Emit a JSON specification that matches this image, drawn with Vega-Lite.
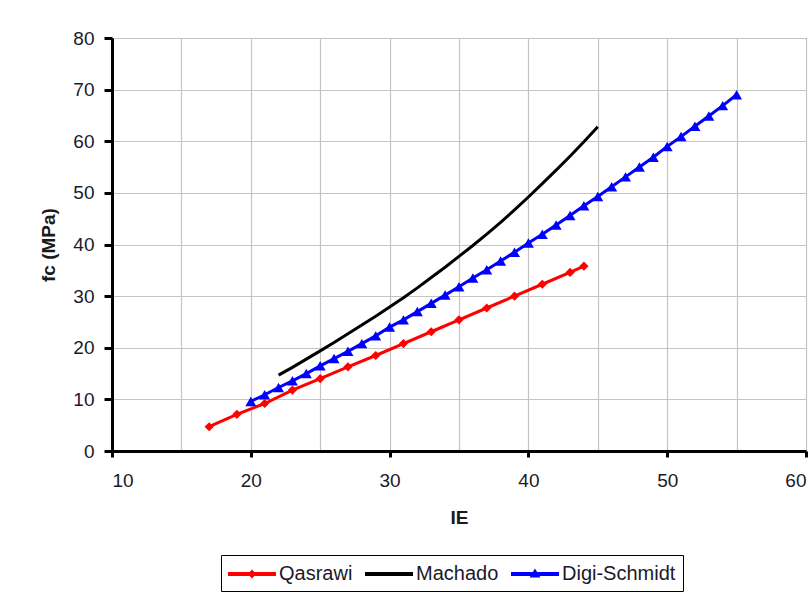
{
  "$schema": "https://vega.github.io/schema/vega-lite/v6.json",
  "width": 694,
  "height": 413,
  "autosize": {"type": "none"},
  "padding": {"left": 112, "top": 38, "right": 3, "bottom": 144},
  "background": "white",
  "config": {
    "font": "Liberation Sans",
    "view": {"stroke": "#000000", "strokeWidth": 1},
    "axis": {
      "domainColor": "#000000",
      "domainWidth": 3,
      "tickColor": "#000000",
      "tickWidth": 3,
      "gridColor": "#c4c4c4",
      "gridWidth": 1.2,
      "labelFont": "Liberation Sans",
      "labelFontSize": 19,
      "labelColor": "#1a1a2a",
      "titleFont": "Liberation Sans",
      "titleFontSize": 19,
      "titleFontWeight": "bold",
      "titleColor": "#1a1a1a"
    },
    "legend": {
      "orient": "none",
      "legendX": 109,
      "legendY": 517,
      "direction": "horizontal",
      "strokeColor": "#000000",
      "fillColor": "#ffffff",
      "padding": 7,
      "labelFont": "Liberation Sans",
      "labelFontSize": 20,
      "labelColor": "#1a1a2a",
      "labelOffset": 27,
      "columnPadding": 12,
      "symbolSize": 576,
      "symbolStrokeWidth": 0,
      "symbolOpacity": 1
    }
  },
  "data": {
    "values": [
      {"series": "Qasrawi", "IE": 17, "fc": 4.7},
      {"series": "Qasrawi", "IE": 19, "fc": 7.1},
      {"series": "Qasrawi", "IE": 21, "fc": 9.2},
      {"series": "Qasrawi", "IE": 23, "fc": 11.8},
      {"series": "Qasrawi", "IE": 25, "fc": 14.0},
      {"series": "Qasrawi", "IE": 27, "fc": 16.3},
      {"series": "Qasrawi", "IE": 29, "fc": 18.5},
      {"series": "Qasrawi", "IE": 31, "fc": 20.8},
      {"series": "Qasrawi", "IE": 33, "fc": 23.1},
      {"series": "Qasrawi", "IE": 35, "fc": 25.4},
      {"series": "Qasrawi", "IE": 37, "fc": 27.7},
      {"series": "Qasrawi", "IE": 39, "fc": 30.0},
      {"series": "Qasrawi", "IE": 41, "fc": 32.3},
      {"series": "Qasrawi", "IE": 43, "fc": 34.6},
      {"series": "Qasrawi", "IE": 44, "fc": 35.8},
      {"series": "Machado", "IE": 22, "fc": 14.7},
      {"series": "Machado", "IE": 23, "fc": 16.2},
      {"series": "Machado", "IE": 24, "fc": 17.8},
      {"series": "Machado", "IE": 25, "fc": 19.4},
      {"series": "Machado", "IE": 26, "fc": 21.0},
      {"series": "Machado", "IE": 27, "fc": 22.7},
      {"series": "Machado", "IE": 28, "fc": 24.4},
      {"series": "Machado", "IE": 29, "fc": 26.1},
      {"series": "Machado", "IE": 30, "fc": 27.9},
      {"series": "Machado", "IE": 31, "fc": 29.7},
      {"series": "Machado", "IE": 32, "fc": 31.6},
      {"series": "Machado", "IE": 33, "fc": 33.6},
      {"series": "Machado", "IE": 34, "fc": 35.6},
      {"series": "Machado", "IE": 35, "fc": 37.7},
      {"series": "Machado", "IE": 36, "fc": 39.8},
      {"series": "Machado", "IE": 37, "fc": 42.0},
      {"series": "Machado", "IE": 38, "fc": 44.3},
      {"series": "Machado", "IE": 39, "fc": 46.7},
      {"series": "Machado", "IE": 40, "fc": 49.2},
      {"series": "Machado", "IE": 41, "fc": 51.8},
      {"series": "Machado", "IE": 42, "fc": 54.4},
      {"series": "Machado", "IE": 43, "fc": 57.1},
      {"series": "Machado", "IE": 44, "fc": 59.9},
      {"series": "Machado", "IE": 45, "fc": 62.8},
      {"series": "Digi-Schmidt", "IE": 20, "fc": 9.6},
      {"series": "Digi-Schmidt", "IE": 21, "fc": 10.9},
      {"series": "Digi-Schmidt", "IE": 22, "fc": 12.3},
      {"series": "Digi-Schmidt", "IE": 23, "fc": 13.6},
      {"series": "Digi-Schmidt", "IE": 24, "fc": 15.0},
      {"series": "Digi-Schmidt", "IE": 25, "fc": 16.5},
      {"series": "Digi-Schmidt", "IE": 26, "fc": 17.9},
      {"series": "Digi-Schmidt", "IE": 27, "fc": 19.3},
      {"series": "Digi-Schmidt", "IE": 28, "fc": 20.8},
      {"series": "Digi-Schmidt", "IE": 29, "fc": 22.3},
      {"series": "Digi-Schmidt", "IE": 30, "fc": 24.0},
      {"series": "Digi-Schmidt", "IE": 31, "fc": 25.4},
      {"series": "Digi-Schmidt", "IE": 32, "fc": 27.0},
      {"series": "Digi-Schmidt", "IE": 33, "fc": 28.6},
      {"series": "Digi-Schmidt", "IE": 34, "fc": 30.2},
      {"series": "Digi-Schmidt", "IE": 35, "fc": 31.8},
      {"series": "Digi-Schmidt", "IE": 36, "fc": 33.5},
      {"series": "Digi-Schmidt", "IE": 37, "fc": 35.1},
      {"series": "Digi-Schmidt", "IE": 38, "fc": 36.8},
      {"series": "Digi-Schmidt", "IE": 39, "fc": 38.5},
      {"series": "Digi-Schmidt", "IE": 40, "fc": 40.3},
      {"series": "Digi-Schmidt", "IE": 41, "fc": 42.0},
      {"series": "Digi-Schmidt", "IE": 42, "fc": 43.8},
      {"series": "Digi-Schmidt", "IE": 43, "fc": 45.6},
      {"series": "Digi-Schmidt", "IE": 44, "fc": 47.5},
      {"series": "Digi-Schmidt", "IE": 45, "fc": 49.3},
      {"series": "Digi-Schmidt", "IE": 46, "fc": 51.2},
      {"series": "Digi-Schmidt", "IE": 47, "fc": 53.1},
      {"series": "Digi-Schmidt", "IE": 48, "fc": 55.0},
      {"series": "Digi-Schmidt", "IE": 49, "fc": 56.9},
      {"series": "Digi-Schmidt", "IE": 50, "fc": 59.0},
      {"series": "Digi-Schmidt", "IE": 51, "fc": 60.9},
      {"series": "Digi-Schmidt", "IE": 52, "fc": 62.9},
      {"series": "Digi-Schmidt", "IE": 53, "fc": 64.9},
      {"series": "Digi-Schmidt", "IE": 54, "fc": 66.9},
      {"series": "Digi-Schmidt", "IE": 55, "fc": 69.0}
    ]
  },
  "encoding": {
    "x": {
      "field": "IE",
      "type": "quantitative",
      "scale": {"domain": [10, 60], "nice": false, "zero": false},
      "axis": {
        "title": "IE",
        "values": [10, 15, 20, 25, 30, 35, 40, 45, 50, 55, 60],
        "labelExpr": "datum.value % 10 === 0 ? datum.label : ''",
        "tickOpacity": {"condition": {"test": "datum.value % 10 === 0", "value": 1}, "value": 0},
        "tickSize": 6,
        "labelPadding": 14,
        "titlePadding": 18,
        "grid": true
      }
    },
    "y": {
      "field": "fc",
      "type": "quantitative",
      "scale": {"domain": [0, 80], "nice": false},
      "axis": {
        "title": "fc (MPa)",
        "values": [0, 10, 20, 30, 40, 50, 60, 70, 80],
        "tickSize": 8,
        "labelPadding": 10,
        "titlePadding": 14,
        "grid": true
      }
    }
  },
  "layer": [
    {
      "transform": [{"filter": "datum.series === 'Qasrawi'"}],
      "mark": {"type": "line", "strokeWidth": 3, "color": "#ff0000"}
    },
    {
      "transform": [{"filter": "datum.series === 'Machado'"}],
      "mark": {"type": "line", "strokeWidth": 3, "color": "#000000"}
    },
    {
      "transform": [{"filter": "datum.series === 'Digi-Schmidt'"}],
      "mark": {"type": "line", "strokeWidth": 3, "color": "#0000ff"}
    },
    {
      "transform": [{"filter": "datum.series === 'Qasrawi'"}],
      "mark": {"type": "point", "shape": "diamond", "filled": true, "size": 85, "color": "#ff0000", "opacity": 1}
    },
    {
      "transform": [{"filter": "datum.series === 'Digi-Schmidt'"}],
      "mark": {"type": "point", "shape": "triangle-up", "filled": true, "size": 120, "color": "#0000ff", "opacity": 1}
    },
    {
      "mark": {"type": "point", "filled": true, "opacity": 1, "size": 0},
      "encoding": {
        "color": {
          "field": "series",
          "type": "nominal",
          "scale": {"domain": ["Qasrawi", "Machado", "Digi-Schmidt"], "range": ["#ff0000", "#000000", "#0000ff"]},
          "legend": {"title": null}
        },
        "shape": {
          "field": "series",
          "type": "nominal",
          "scale": {
            "domain": ["Qasrawi", "Machado", "Digi-Schmidt"],
            "range": [
              "M-1,-0.17H3V0.17H-1Z M1,-0.38L1.35,0L1,0.38L0.65,0Z",
              "M-1,-0.17H3V0.17H-1Z",
              "M-1,-0.17H3V0.17H-1Z M1,-0.45L1.45,0.3L0.55,0.3Z"
            ]
          },
          "legend": {"title": null}
        }
      }
    }
  ]
}
